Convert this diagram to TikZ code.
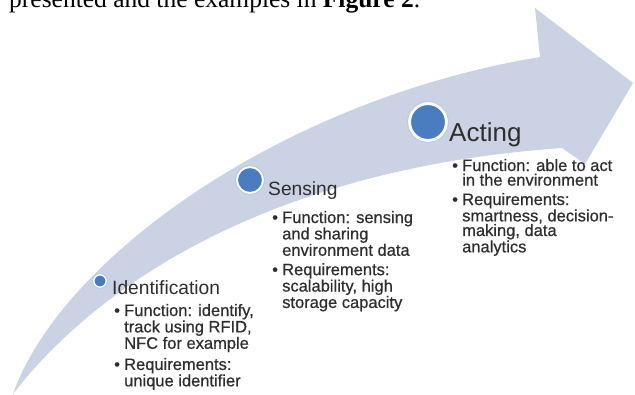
\documentclass[tikz,border=0pt]{standalone}
\usepackage{fontspec}
\setmainfont{Liberation Sans}
\newfontfamily\captionserif{Liberation Serif}
\newfontfamily\listfont{Liberation Sans}[FakeBold=0.6]
\definecolor{bandcol}{HTML}{CAD2E4}
\definecolor{dotblue}{HTML}{4A7CC0}
\definecolor{ringblue}{HTML}{B5CBEA}
\definecolor{txtcol}{HTML}{2E2E2E}
\newcommand{\bitem}[1]{\par\hangindent=10pt\hangafter=1\noindent\makebox[10pt][l]{•}#1}
\newcommand{\blistfont}{\listfont\fontsize{16.5}{14.6}\selectfont\raggedright}
\begin{document}
\begin{tikzpicture}[x=1pt,y=-1pt,
  band/.style={fill=bandcol},
  dot/.style={circle,fill=dotblue,draw=white,inner sep=0pt},
  halo/.style={draw=ringblue,line width=0.8pt},
  head/.style={anchor=base west,inner sep=0pt,text=txtcol},
  blist/.style={anchor=base west,inner sep=0pt,text=txtcol}]
\useasboundingbox (0,0) rectangle (635,394);
\fill[white] (0,0) rectangle (635,394);
\node[anchor=base west,inner sep=0pt] (cap) at (9,7)
  {\captionserif\fontsize{25.5}{28}\selectfont presented and the examples in \textbf{Figure 2}.};
% curved arrow
\fill[band] (13,394) .. controls (60,260) and (280,100) .. (540,57)
  -- (535,8) -- (633,83) -- (585,164) -- (562,148)
  .. controls (250,170) and (85,300) .. (13,394) -- cycle;
% circles
\node[dot,minimum size=12.5pt,line width=1.5pt] (c1) at (100,281) {};
\node[dot,minimum size=26pt,line width=2pt] (c2) at (250,180) {};
\node[dot,minimum size=37pt,line width=3pt] (c3) at (428,122) {};
\draw[halo] (c1.center) circle (7.4);
\draw[halo] (c2.center) circle (14.4);
\draw[halo] (c3.center) circle (20.4);
% headings
\node[head,font=\fontsize{19.2}{22}\selectfont] (h1) at (112,294) {Identification};
\node[head,font=\fontsize{19.2}{22}\selectfont] (h2) at (268,195) {Sensing};
\node[head,font=\fontsize{26}{30}\selectfont] (h3) at (449,141) {Acting};
% bullet lists
\node[blist] (l1) at (114,316) {\parbox[t]{200pt}{\blistfont
  \bitem{Function: identify,\newline track using RFID,\newline NFC for example}\par\vspace{4.8pt}
  \bitem{Requirements:\newline unique identifier}}};
\node[blist] (l2) at (272,223) {\parbox[t]{200pt}{\blistfont
  \bitem{Function: sensing\newline and sharing\newline environment data}\par\vspace{4.8pt}
  \bitem{Requirements:\newline scalability, high\newline storage capacity}}};
\node[blist] (l3) at (452,171) {\parbox[t]{200pt}{\blistfont
  \bitem{Function: able to act\newline in the environment}\par\vspace{4.8pt}
  \bitem{Requirements:\newline smartness, decision-\newline making, data\newline analytics}}};
\end{tikzpicture}
\end{document}
